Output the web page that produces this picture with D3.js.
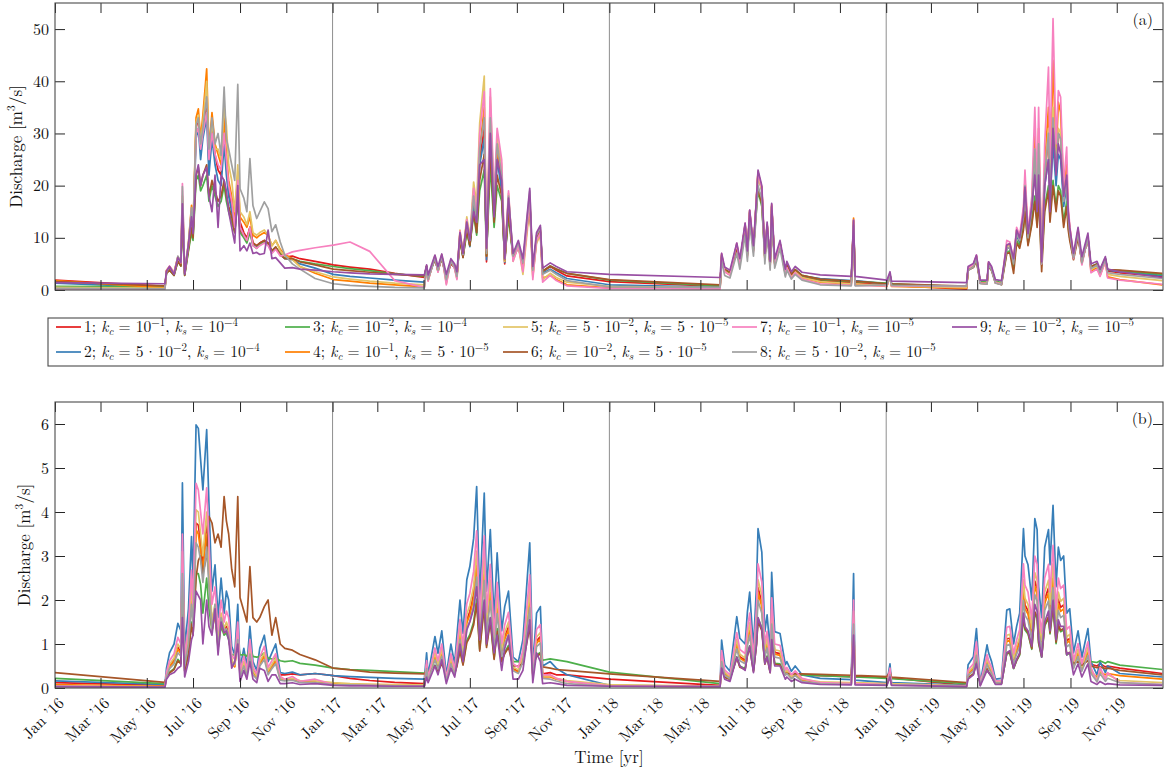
<!DOCTYPE html>
<html>
<head>
<meta charset="utf-8">
<script src="https://cdn.jsdelivr.net/npm/d3@7/dist/d3.min.js"></script>
<style>
  body { margin: 0; background: #fff; }
  svg { display: block; font-family: "Latin Modern Roman", "CMU Serif", "Liberation Serif", "Times New Roman", serif; }
  text { white-space: pre; }
</style>
</head>
<body>
<svg id="chart" width="1168" height="774"></svg>
<script>
// Simulated discharge for nine (k_c, k_s) parameter runs, 2016-2019.
// Sample days are counted from 1 Jan 2016.
const startDay = Date.UTC(2016, 0, 1);
const dayIndex = [
  0,145,147,151,157,162,166,168,171,176,
  180,182,186,189,192,195,200,203,207,211,
  215,219,223,226,229,233,237,241,244,249,
  253,257,261,266,270,276,281,286,291,297,
  303,313,323,343,367,389,415,448,487,
  490,492,501,505,510,516,522,527,530,534,
  538,543,547,552,556,560,566,569,574,579,
  583,589,593,598,604,611,617,626,630,635,
  640,643,653,661,675,731,877,
  879,883,890,899,903,910,913,916,921,925,
  927,932,936,939,943,945,949,956,963,965,
  971,976,985,1009,1050,1053,1055,1097,1101,1103,1202,
  1204,1211,1215,1220,1229,1231,1235,1240,1248,1255,
  1259,1264,1268,1272,1277,1279,1283,1288,1292,1295,
  1297,1301,1305,1310,1312,1316,1320,1323,1326,1330,
  1334,1336,1338,1343,1349,1354,1362,1366,1374,1378,
  1385,1388,1404,1460
];

const runLabels = [
  "1; k_c = 10^{-1}, k_s = 10^{-4}",
  "2; k_c = 5\u200a·\u200a10^{-2}, k_s = 10^{-4}",
  "3; k_c = 10^{-2}, k_s = 10^{-4}",
  "4; k_c = 10^{-1}, k_s = 5\u200a·\u200a10^{-5}",
  "5; k_c = 5\u200a·\u200a10^{-2}, k_s = 5\u200a·\u200a10^{-5}",
  "6; k_c = 10^{-2}, k_s = 5\u200a·\u200a10^{-5}",
  "7; k_c = 10^{-1}, k_s = 10^{-5}",
  "8; k_c = 5\u200a·\u200a10^{-2}, k_s = 10^{-5}",
  "9; k_c = 10^{-2}, k_s = 10^{-5}"
];
const runColors = ["#e41a1c","#377eb8","#4daf4a","#ff7f00","#e3c466","#a65628","#f781bf","#a0a0a0","#984ea3"];

const ticksA = [0, 10, 20, 30, 40, 50];
const ticksB = [0, 1, 2, 3, 4, 5, 6];

// ---- panel (a) ----
const panelA_run1 = [
  1.9,0.7,3.6,4.2,3.2,6.0,5.0,17,3.2,8.5,
  15,11,31,33,27,31,36,24,31,26,
  23,22,30,24,19,16,12,20,13,11,
  10,12,9,8.5,9,9.5,9,7.5,8.2,7,
  6.3,6.5,6.0,5.5,4.8,4.4,4.0,3.2,2.4,
  4.6,2.3,6.2,3.8,6.5,2.2,5.5,4.4,2.8,10.5,
  6.5,12.5,8.5,17,11.5,25,31,5.4,32,14,
  26,20,5.0,16,6.2,8.5,5.0,17.5,3.8,10,
  11.5,3.5,4.5,3.8,2.7,1.6,0.7,
  6.5,3.8,3.1,8.5,5.2,12.3,6.8,14.8,7.8,17.5,
  22.5,19.5,6.3,12.5,4.8,16,5.2,9.0,3.3,4.8,
  2.8,3.8,2.6,1.8,1.4,13,1.4,0.9,2.8,0.9,0.15,
  4.0,4.6,6.3,1.4,1.3,5.0,4.0,1.5,1.2,8.0,
  8.2,5.0,10.5,9.2,13.5,19,9.5,15,26,15,
  27,5.0,21,30,18,33,22,30,29,17,
  21,14,11,6.2,11,5.4,10,4.2,4.8,3.5,
  5.8,3.6,3.3,2.6
];
const panelA_run2 = [
  1.3,0.5,3.5,4.0,3.0,5.8,4.8,16.5,3.0,8.2,
  14.5,10.5,29,31,25,29,33,22,29,24,
  21,20,28,22,18,15,11.5,19,12,10.5,
  9.5,11.5,8.6,8.2,8.8,9.2,8.6,7.2,8,6.8,
  6,5.8,5.0,4.2,3.0,2.6,2.3,1.9,1.5,
  4.4,2.1,6.0,3.6,6.3,2.0,5.3,4.2,2.6,10,
  6.3,12,8.3,16.5,11,24,29,5.8,30,13.5,
  25,19,5.3,15.5,6.0,8.2,4.8,17,3.5,9.5,
  11,3.2,4.0,3.3,2.2,1.0,0.5,
  6.6,3.9,3.2,8.6,5.3,12.4,6.9,15,7.9,17.5,
  22,19,6.4,12.5,4.9,16,5.3,9.0,3.4,4.9,
  2.9,3.9,2.7,2.2,1.8,13.2,1.8,1.2,3.0,1.1,0.5,
  4.1,4.7,6.4,1.5,1.4,5.1,4.1,1.6,1.3,8.0,
  8.2,5.2,10.5,9.2,13.5,19.5,9.8,15.5,24,15,
  25,5.2,20,25,17,28,20,26,25,16,
  20,14,11,6.4,11,5.6,10,4.4,5.0,3.7,
  6.0,3.8,3.5,2.8
];
const panelA_run3 = [
  0.7,0.6,3.2,3.8,2.8,5.5,4.6,14,2.8,7.5,
  11,9.5,21,22,19,20,22,17,20,18,
  16,17,20,17,15,13,11,17,11,10,
  9,11,8.5,8,8.8,9.2,8.8,7.5,8.2,7,
  6.2,6,5.5,5.0,4.5,4.1,3.7,3.1,2.6,
  4.5,2.6,6.0,3.8,6.2,2.4,5.2,4.3,2.9,9.5,
  6.3,11,8.5,14.5,10.5,19,23,6.5,24,12,
  20,17,5.8,14,6.3,8.5,5.2,16.5,4.0,9.8,
  11,3.6,4.6,4.0,3.2,1.9,0.8,
  6.3,3.9,3.3,8.0,5.3,11.5,6.9,13.5,7.9,15.5,
  19,16,6.5,11.5,5.0,14,5.4,8.8,3.6,5.0,
  3.0,3.9,2.8,2.0,1.6,12.5,1.6,1.3,3.0,1.2,0.6,
  3.9,4.4,5.8,1.6,1.5,4.8,3.9,1.7,1.4,7.2,
  7.5,4.5,9.5,8.5,12,15.5,8.8,13,18,12.5,
  19,4.8,16,20,14,21,16,20,19,13,
  17,12.5,10,6.2,10.5,5.6,9.8,4.5,5.0,3.8,
  6.0,3.9,3.7,3.0
];
const panelA_run4 = [
  1.8,0.4,3.8,4.5,3.4,6.4,5.3,18,3.4,9.0,
  16.2,11.5,33,34.7,29,33.5,42.4,27,34,28,
  26,24,33,26,21,18,13.5,22,14,13,
  12,14,10.5,10,10.5,11,10.5,8.5,9.5,7.8,
  6.8,6,4.5,3.2,2.0,1.7,1.3,1.0,0.6,
  4.2,1.8,6.4,3.6,6.6,1.5,5.6,4.2,2.3,11,
  6.8,13.5,9.3,19,13,27,35,6.5,34,15.5,
  27,22,5.5,17,6.0,8.5,4.0,17,2.8,9.5,
  11,2.3,2.8,2.0,1.0,0.4,0.3,
  6.8,3.6,2.9,8.8,5.0,12.6,6.6,15.2,7.6,17.8,
  22.6,19.5,6.0,12.5,4.5,16.3,5.0,9.0,3.0,4.5,
  2.5,3.5,2.3,1.5,1.1,13.8,1.1,0.7,2.6,0.7,0.35,
  4.1,4.8,6.5,1.3,1.2,5.2,4.1,1.4,1.1,8.6,
  8.8,5.5,11.5,10,15,21,10.5,17,30,17,
  31,5.2,24,35,20,44,25,36,34,19,
  24,15,12,6.0,11.5,5.0,10.2,3.6,4.3,2.8,
  5.5,2.5,2.0,1.0
];
const panelA_run5 = [
  0.5,0.3,3.6,4.3,3.2,6.2,5.1,17.5,3.2,8.8,
  15.5,11.2,32,33.5,28,32,40,26,32,27,
  27,25,35,31.5,24,21,15,24,15,14,
  12.5,15,11,10.5,11,11.5,10.5,8.5,9.5,7.5,
  6.5,5.8,4.5,3.5,2.5,2.1,1.7,1.3,1.0,
  4.3,1.9,6.6,3.5,6.8,1.2,5.8,4.3,2.2,11.5,
  7.0,14,10,20.7,16.5,32,41,7,37,17,
  29,24,5.5,18.5,5.5,8.5,3.0,16,2.5,9.0,
  10.5,2.0,3.2,2.4,1.5,0.7,0.4,
  6.7,3.6,2.9,8.7,5.0,12.5,6.6,15,7.6,17.5,
  22,19,6.0,12.3,4.5,16,5.0,9.0,3.0,4.5,
  2.6,3.6,2.4,1.6,1.2,13.4,1.2,0.8,2.7,0.8,0.45,
  4.1,4.8,6.4,1.4,1.3,5.1,4.1,1.5,1.2,8.4,
  8.6,5.3,11,9.6,14.5,20,10,16,27,16,
  28,5.0,22,31,19,35,23,31,30,18,
  22,14.5,11.5,6.0,11,5.2,10,3.9,4.6,3.1,
  5.6,3.0,2.6,1.8
];
const panelA_run6 = [
  1.6,0.8,3.2,3.8,2.8,5.5,4.6,15,2.8,7.8,
  12,10,22,23.5,20,22,24,18,21,19,
  17,18,21,18,16,14,11,18,11.5,10.5,
  9.5,12,9,8.5,9,9.5,9,7.5,8.2,6.8,
  6,6,5.4,4.8,4.0,3.7,3.4,3.0,2.7,
  4.6,2.6,5.8,3.8,6.0,2.5,5.0,4.3,2.9,9.5,
  6.2,11.5,8.5,15,11,21,26,6.5,27,13,
  22,18,5.8,15,6.4,8.5,5.2,17,4.0,9.8,
  11.2,3.6,4.6,4.0,3.2,2.0,1.0,
  6.2,4.0,3.4,8.0,5.4,11.5,7.0,13.8,8.0,16,
  19.5,16.5,6.5,11.5,5.0,14.5,5.4,8.8,3.6,5.0,
  3.0,3.9,2.8,2.1,1.7,12.3,1.7,1.2,3.0,1.2,0.75,
  3.8,4.3,5.6,1.3,1.2,4.6,3.7,1.4,1.0,7.0,
  7.2,3.2,9.0,8.0,11.5,15,8.5,12.5,17,12,
  18,3.5,15,19,13,20,15,19,18,12,
  16,11.5,9.5,5.8,10,5.4,9.8,4.5,5.0,3.8,
  6.0,3.9,3.8,3.2
];
const panelA_run7 = [
  0.2,0.2,3.7,4.6,3.3,6.3,5.2,20.4,3.3,8.6,
  15.5,11.2,30,31,27,30,34,25,30,26,
  24,23,30,25,20,17,12,21,12,10.5,
  9.5,12,8.5,8,8.5,9,8.5,7,7.8,6.5,
  6.7,7.3,7.6,8.1,8.6,9.2,7.4,1.8,0.5,
  4.3,1.7,6.5,3.4,6.7,1.0,5.7,4.0,2.0,11.3,
  6.8,13.5,9.5,19.5,14,30,38,7.5,38.6,18,
  31,25,6.0,19,5.5,8.5,3.5,17.5,2.0,9.5,
  11,1.5,2.8,1.8,0.8,0.3,0.2,
  7.0,3.5,2.8,9.0,4.8,12.8,6.3,15.3,7.3,17.8,
  22.5,19.5,5.8,12.6,4.2,16.4,4.8,9.0,2.8,4.3,
  2.3,3.3,2.1,1.2,0.9,13.4,0.9,0.8,2.8,0.8,0.7,
  4.2,4.9,6.7,1.3,1.2,5.4,4.3,1.4,1.1,9.5,
  9.2,5.8,12,10.5,16,23,11,18,35,19,
  35,5.0,28,42.7,25,52,28,38.2,37,20,
  27.4,16,12.5,6.0,11.5,4.8,10.2,3.3,4.0,2.6,
  5.5,2.3,1.9,1.1
];
const panelA_run8 = [
  0.3,0.2,3.5,4.4,3.1,6.5,5.4,19.8,3.5,9.0,
  15.8,11.5,31.5,33,28,31,37,27,33,28,
  30,25.8,38.9,29,27,24,21,39.4,19.4,17.6,
  15,25.2,16.2,13.7,15,16.9,15.6,11.2,12.5,9.2,
  6.7,5.0,4.0,2.2,1.2,0.9,0.7,0.5,0.4,
  4.5,2.0,6.2,3.8,6.4,2.0,5.5,4.4,2.6,10.8,
  6.8,13,9.5,18,13,27,33,7,33,16,
  28,22,6.0,18,6.5,9.0,5.2,19,3.8,10.5,
  12,3.0,3.8,3.0,1.8,0.6,0.5,
  5.5,2.8,2.3,7.0,4.0,10.5,5.5,13,6.5,15.5,
  20,17.5,5.0,11,3.8,14.5,4.2,8.0,2.5,3.8,
  2.1,3.0,1.9,1.0,0.8,12.5,0.8,1.0,2.6,0.9,0.75,
  3.8,4.4,6.0,1.2,1.1,4.8,3.8,1.3,1.0,8.0,
  8.2,5.0,10.8,9.5,14,20,10,16,27,16,
  28,5.0,22,30,18,33,23,30,29,17,
  21,14,11,6.2,11,5.2,10,4.1,4.8,3.3,
  5.8,3.3,3.0,2.2
];
const panelA_run9 = [
  1.4,1.2,3.6,4.5,3.0,6.2,5.3,16.5,3.0,8.8,
  14,10.8,22,24,20,22,23.5,18,15,22,
  12,22,21,19,15,12,9,20,7.5,8.5,
  7.5,9,7,7.2,6.8,7,11.5,6,6.2,5.2,
  4.2,4.3,4.0,3.8,3.5,3.3,3.1,3.0,2.9,
  4.8,2.9,6.7,4.5,6.9,3.0,6.0,5.0,3.5,11,
  7.0,13,9.5,15,13,24,25,8,30,14,
  25,21,6.0,17.6,7.0,9.5,6.0,19.5,4.5,11,
  12.4,4.2,5.2,4.5,3.5,3.0,2.4,
  7.0,4.4,3.8,9.0,6.0,12.8,7.5,15.3,8.5,17.8,
  23,20,7.0,13,5.5,16.6,6.0,9.5,4.0,5.5,
  3.5,4.5,3.4,2.9,2.6,13.4,2.6,1.9,3.5,1.7,1.4,
  4.5,5.1,6.7,1.9,1.9,5.4,4.5,2.0,1.8,8.6,
  8.9,6.0,11.5,10,14.7,19.7,10.8,16,22,15,
  22,5.4,20,25,15,31,22,28,26,18,
  22,15,12,7,12,6.4,10.9,5.0,5.5,4.0,
  6.4,4.0,3.5,2.4
];

// ---- panel (b) ----
const panelB_run1 = [
  0.12,0.06,0.3,0.5,0.63,0.93,0.82,2.9,0.57,1.13,
  2.17,1.5,3.75,3.7,3.3,2.8,3.7,2.6,1.4,1.8,
  1.0,1.6,1.3,1.4,1.25,0.6,0.5,1.2,0.35,0.55,
  0.35,0.88,0.4,0.3,0.57,0.75,0.38,0.5,0.63,0.3,
  0.3,0.32,0.3,0.33,0.28,0.22,0.17,0.13,0.1,
  0.5,0.22,0.74,0.5,0.82,0.22,0.63,0.35,0.76,1.26,
  0.78,1.55,1.74,2.14,2.89,1.26,2.79,1.39,2.27,0.98,
  1.93,0.82,1.17,1.39,0.44,0.38,0.69,2.08,0.32,1.07,
  1.17,0.32,0.35,0.3,0.3,0.2,0.06,
  0.69,0.33,0.24,1.02,0.71,0.63,1.09,1.37,0.57,1.47,
  2.28,1.95,0.81,1.05,0.52,1.66,0.81,0.78,0.34,0.38,
  0.28,0.32,0.3,0.28,0.26,1.6,0.26,0.24,0.4,0.23,0.06,
  0.33,0.45,0.85,0.08,0.62,0.5,0.38,0.13,0.14,1.12,
  1.13,0.63,0.88,1.07,2.28,1.89,1.76,1.26,2.43,2.27,
  1.45,1.01,2.02,2.27,1.76,2.61,1.45,2.02,1.83,1.89,
  1.07,1.1,1.13,0.6,0.82,0.56,0.85,0.54,0.5,0.55,
  0.48,0.5,0.45,0.33
];
const panelB_run2 = [
  0.16,0.08,0.45,0.8,1.0,1.47,1.3,4.66,0.9,1.8,
  3.44,2.4,5.98,5.9,5.19,4.5,5.87,4.2,2.2,2.8,
  1.6,2.5,1.7,2.2,2.0,0.95,0.75,1.9,0.45,0.9,
  0.5,1.4,0.6,0.4,0.9,1.2,0.6,0.8,1.0,0.35,
  0.33,0.36,0.3,0.33,0.28,0.26,0.24,0.22,0.2,
  0.8,0.3,1.17,0.79,1.3,0.3,1.0,0.55,1.2,2.0,
  1.24,2.46,2.76,3.4,4.58,2.0,4.43,2.2,3.6,1.55,
  3.07,1.3,1.85,2.2,0.7,0.6,1.1,3.3,0.5,1.7,
  1.85,0.5,0.6,0.45,0.3,0.06,0.04,
  1.09,0.53,0.38,1.62,1.13,1.0,1.73,2.18,0.9,2.33,
  3.62,3.09,1.28,1.66,0.83,2.63,1.28,1.24,0.53,0.6,
  0.38,0.5,0.3,0.22,0.19,2.6,0.18,0.12,0.55,0.12,0.06,
  0.53,0.71,1.35,0.11,0.98,0.8,0.6,0.2,0.22,1.77,
  1.8,1.0,1.4,1.7,3.62,3.0,2.8,2.0,3.85,3.6,
  2.3,1.6,3.2,3.6,2.8,4.15,2.3,3.2,2.9,3.0,
  1.7,1.75,1.8,0.8,1.3,0.7,1.35,0.6,0.3,0.6,
  0.35,0.5,0.33,0.25
];
const panelB_run3 = [
  0.22,0.10,0.28,0.36,0.44,0.65,0.57,2.0,0.4,0.8,
  1.5,1.3,2.6,2.6,2.35,1.7,2.5,1.8,1.3,1.7,
  0.9,1.4,1.2,1.25,1.1,0.75,0.75,1.1,0.75,0.76,
  0.72,0.9,0.72,0.7,0.72,0.8,0.68,0.66,0.68,0.62,
  0.6,0.62,0.56,0.52,0.45,0.42,0.4,0.37,0.34,
  0.4,0.36,0.52,0.4,0.57,0.34,0.45,0.34,0.53,0.88,
  0.55,1.08,1.21,1.5,2.02,0.88,1.95,0.97,1.58,0.68,
  1.35,0.6,0.81,0.97,0.6,0.6,0.62,1.45,0.62,0.75,
  0.81,0.63,0.66,0.64,0.6,0.36,0.1,
  0.48,0.25,0.2,0.71,0.5,0.44,0.76,0.96,0.4,1.03,
  1.59,1.36,0.56,0.73,0.37,1.16,0.56,0.55,0.3,0.32,
  0.3,0.31,0.3,0.28,0.25,1.15,0.25,0.22,0.35,0.21,0.1,
  0.24,0.31,0.59,0.1,0.43,0.35,0.26,0.1,0.1,0.78,
  0.79,0.44,0.62,0.75,1.59,1.32,1.23,0.88,1.69,1.58,
  1.01,0.7,1.41,1.58,1.23,1.83,1.01,1.41,1.28,1.32,
  0.75,0.77,0.79,0.62,0.65,0.62,0.68,0.6,0.58,0.62,
  0.56,0.6,0.52,0.42
];
const panelB_run4 = [
  0.08,0.04,0.28,0.48,0.6,0.88,0.78,2.8,0.54,1.08,
  2.06,1.45,3.6,3.5,3.1,2.7,3.5,2.5,1.3,1.7,
  0.96,1.5,1.25,1.3,1.2,0.57,0.48,1.15,0.3,0.55,
  0.32,0.84,0.36,0.24,0.54,0.72,0.36,0.48,0.6,0.2,
  0.18,0.2,0.15,0.14,0.1,0.08,0.07,0.06,0.05,
  0.48,0.18,0.7,0.47,0.78,0.18,0.6,0.33,0.72,1.2,
  0.74,1.48,1.66,2.04,2.75,1.2,2.66,1.32,2.16,0.93,
  1.84,0.78,1.11,1.32,0.42,0.36,0.66,1.98,0.3,1.02,
  1.11,0.25,0.25,0.2,0.15,0.05,0.03,
  0.65,0.32,0.23,0.97,0.68,0.6,1.04,1.31,0.54,1.4,
  2.17,1.85,0.77,1.0,0.5,1.58,0.77,0.74,0.32,0.36,
  0.23,0.3,0.18,0.12,0.1,1.55,0.1,0.08,0.35,0.08,0.04,
  0.32,0.43,0.81,0.07,0.59,0.48,0.36,0.12,0.13,1.06,
  1.08,0.6,0.84,1.02,2.17,1.8,1.68,1.2,2.31,2.16,
  1.38,0.96,1.92,2.16,1.68,2.49,1.38,1.92,1.74,1.8,
  1.02,1.05,1.08,0.48,0.78,0.42,0.81,0.36,0.25,0.36,
  0.3,0.33,0.28,0.2
];
const panelB_run5 = [
  0.05,0.03,0.3,0.54,0.68,1.0,0.88,3.1,0.6,1.22,
  2.34,1.63,4.05,4.0,3.5,3.0,4.0,2.85,1.5,1.9,
  1.1,1.7,1.35,1.5,1.35,0.65,0.52,1.3,0.3,0.6,
  0.34,0.95,0.4,0.27,0.6,0.8,0.4,0.54,0.68,0.22,
  0.2,0.22,0.17,0.16,0.12,0.1,0.09,0.08,0.07,
  0.54,0.2,0.8,0.54,0.88,0.2,0.68,0.37,0.82,1.36,
  0.84,1.67,1.88,2.31,3.11,1.36,3.01,1.5,2.45,1.05,
  2.09,0.88,1.26,1.5,0.48,0.41,0.75,2.24,0.34,1.16,
  1.26,0.28,0.28,0.22,0.17,0.08,0.04,
  0.74,0.36,0.26,1.1,0.77,0.68,1.18,1.48,0.61,1.58,
  2.46,2.1,0.87,1.13,0.56,1.79,0.87,0.84,0.36,0.41,
  0.26,0.34,0.2,0.14,0.12,1.75,0.12,0.1,0.4,0.1,0.05,
  0.36,0.48,0.92,0.07,0.67,0.54,0.41,0.14,0.15,1.2,
  1.22,0.68,0.95,1.16,2.46,2.04,1.9,1.36,2.62,2.45,
  1.56,1.09,2.18,2.45,1.9,2.82,1.56,2.18,1.97,2.04,
  1.16,1.19,1.22,0.54,0.88,0.48,0.92,0.41,0.2,0.41,
  0.22,0.3,0.17,0.12
];
const panelB_run6 = [
  0.35,0.13,0.26,0.34,0.42,0.62,0.55,1.9,0.38,0.76,
  1.45,1.2,2.5,2.9,3.0,2.6,3.0,3.9,3.75,3.3,
  3.5,3.2,4.35,3.8,3.5,2.7,2.3,4.35,2.05,1.75,
  1.5,2.76,1.6,1.5,1.6,1.85,2.0,1.2,1.6,1.0,
  0.9,0.86,0.76,0.64,0.45,0.41,0.36,0.34,0.32,
  0.4,0.34,0.5,0.38,0.55,0.32,0.42,0.32,0.5,0.84,
  0.52,1.03,1.16,1.43,1.92,0.84,1.86,0.92,1.51,0.65,
  1.29,0.6,0.78,0.92,0.5,0.5,0.55,1.39,0.5,0.71,
  0.78,0.48,0.45,0.42,0.4,0.32,0.15,
  0.46,0.24,0.2,0.68,0.47,0.42,0.73,0.92,0.38,0.98,
  1.52,1.3,0.54,0.7,0.35,1.1,0.54,0.52,0.32,0.33,
  0.32,0.32,0.32,0.31,0.29,1.1,0.29,0.26,0.35,0.25,0.12,
  0.24,0.32,0.61,0.1,0.44,0.36,0.27,0.1,0.1,0.8,
  0.81,0.45,0.63,0.77,1.63,1.35,1.26,0.9,1.73,1.62,
  1.04,0.72,1.44,1.62,1.26,1.87,1.04,1.44,1.31,1.35,
  0.77,0.79,0.81,0.55,0.6,0.52,0.62,0.5,0.46,0.48,
  0.44,0.45,0.4,0.3
];
const panelB_run7 = [
  0.04,0.02,0.36,0.62,0.78,1.15,1.0,3.5,0.7,1.4,
  2.68,1.9,4.65,4.5,4.0,3.5,4.55,3.3,1.9,2.3,
  1.3,2.0,1.5,1.75,1.6,0.75,0.65,1.5,0.38,0.72,
  0.42,1.1,0.48,0.32,0.7,0.95,0.47,0.62,0.78,0.26,
  0.2,0.26,0.15,0.2,0.08,0.07,0.06,0.05,0.04,
  0.62,0.23,0.91,0.62,1.0,0.23,0.78,0.43,0.94,1.56,
  0.97,1.92,2.15,2.65,3.57,1.56,3.46,1.72,2.81,1.21,
  2.4,1.01,1.44,1.72,0.55,0.47,0.86,2.57,0.39,1.33,
  1.44,0.3,0.3,0.22,0.15,0.05,0.03,
  0.85,0.41,0.3,1.26,0.88,0.78,1.35,1.7,0.7,1.82,
  2.82,2.41,1.0,1.29,0.65,2.05,1.0,0.97,0.41,0.47,
  0.3,0.39,0.22,0.12,0.1,2.0,0.1,0.08,0.45,0.08,0.04,
  0.41,0.55,1.05,0.08,0.76,0.62,0.47,0.16,0.17,1.38,
  1.4,0.78,1.09,1.33,2.82,2.34,2.18,1.56,3.0,2.81,
  1.79,1.25,2.5,2.81,2.18,3.24,1.79,2.5,2.26,2.34,
  1.33,1.37,1.4,0.62,1.01,0.55,1.05,0.47,0.14,0.47,
  0.2,0.35,0.12,0.08
];
const panelB_run8 = [
  0.03,0.02,0.25,0.44,0.55,0.8,0.72,2.6,0.5,1.0,
  1.9,1.4,3.3,3.2,2.9,2.4,3.2,2.3,1.3,1.9,
  0.9,1.6,1.3,1.35,1.2,0.55,0.55,1.1,0.25,0.5,
  0.28,0.77,0.3,0.2,0.5,0.65,0.3,0.44,0.55,0.18,
  0.16,0.18,0.12,0.12,0.08,0.07,0.06,0.05,0.04,
  0.44,0.16,0.64,0.43,0.72,0.16,0.55,0.3,0.66,1.1,
  0.68,1.35,1.52,1.87,2.52,1.1,2.44,1.21,1.98,0.85,
  1.69,0.72,1.02,1.21,0.39,0.33,0.6,1.82,0.28,0.94,
  1.02,0.22,0.2,0.16,0.1,0.04,0.03,
  0.6,0.29,0.21,0.89,0.62,0.55,0.95,1.2,0.5,1.28,
  1.99,1.7,0.7,0.91,0.46,1.45,0.7,0.68,0.29,0.33,
  0.21,0.28,0.15,0.1,0.08,1.45,0.08,0.07,0.3,0.07,0.03,
  0.29,0.39,0.74,0.06,0.54,0.44,0.33,0.11,0.12,0.97,
  0.99,0.55,0.77,0.94,1.99,1.65,1.54,1.1,2.12,1.98,
  1.27,0.88,1.76,1.98,1.54,2.28,1.27,1.76,1.6,1.65,
  0.94,0.96,0.99,0.44,0.72,0.38,0.74,0.33,0.14,0.33,
  0.15,0.22,0.12,0.08
];
const panelB_run9 = [
  0.03,0.02,0.2,0.3,0.35,0.45,0.5,1.6,0.25,0.6,
  1.1,1.2,2.2,2.1,2.0,1.0,2.0,1.4,1.2,1.8,
  0.75,1.5,1.25,1.3,1.1,0.45,0.6,1.0,0.15,0.4,
  0.2,0.6,0.2,0.12,0.45,0.4,0.15,0.3,0.3,0.1,
  0.1,0.12,0.08,0.1,0.06,0.05,0.05,0.04,0.04,
  0.25,0.12,0.5,0.3,0.64,0.1,0.45,0.25,0.55,1.0,
  0.6,1.32,1.5,1.8,2.3,1.1,2.0,1.0,1.6,0.8,
  1.2,0.4,0.9,1.2,0.2,0.2,0.4,1.55,0.12,0.8,
  0.6,0.1,0.12,0.1,0.06,0.04,0.03,
  0.45,0.2,0.15,0.7,0.5,0.4,0.75,0.95,0.35,1.0,
  1.6,1.35,0.55,0.7,0.35,1.1,0.5,0.5,0.2,0.25,
  0.15,0.2,0.12,0.08,0.07,1.2,0.07,0.06,0.25,0.06,0.03,
  0.2,0.3,0.55,0.05,0.4,0.35,0.25,0.08,0.08,0.8,
  0.85,0.45,0.65,0.8,1.7,1.4,1.3,0.95,1.9,1.75,
  1.1,0.7,1.5,1.75,1.3,2.0,1.1,1.55,1.4,1.4,
  0.75,0.8,0.8,0.3,0.55,0.25,0.55,0.15,0.08,0.15,
  0.08,0.1,0.07,0.06
];

const runsA = [panelA_run1, panelA_run2, panelA_run3, panelA_run4, panelA_run5, panelA_run6, panelA_run7, panelA_run8, panelA_run9];
const runsB = [panelB_run1, panelB_run2, panelB_run3, panelB_run4, panelB_run5, panelB_run6, panelB_run7, panelB_run8, panelB_run9];

// ---------------------------------------------------------------
const svg = d3.select("#chart");
const dates = dayIndex.map(d => d3.utcDay.offset(new Date(startDay), d));
const X0 = 55, X1 = 1163;
const x = d3.scaleUtc()
  .domain([new Date(startDay), new Date(Date.UTC(2020, 0, 1))])
  .range([X0, X1]);
const monthTicks = d3.utcMonth.every(2).range(new Date(startDay), new Date(Date.UTC(2020, 0, 1)));
const yearLines = d3.utcYear.range(new Date(Date.UTC(2017, 0, 1)), new Date(Date.UTC(2020, 0, 1)));
const fmtTick = d3.utcFormat("%b \u2019%y");

// Small TeX-like renderer: k_c -> italic k with italic subscript, ^{..} -> superscript
function mathTokens(s) {
  const out = [];
  const re = /k_([a-z])|\^\{([^}]*)\}|([^k^]+)/g;
  let m;
  while ((m = re.exec(s))) {
    if (m[1]) { out.push({ t: "k", kind: "it" }); out.push({ t: m[1], kind: "sub" }); }
    else if (m[2] !== undefined) out.push({ t: m[2].replace("-", "\u2212"), kind: "sup" });
    else out.push({ t: m[3], kind: "rm" });
  }
  return out;
}
function renderMath(textSel, tokens, size) {
  let shift = 0;
  tokens.forEach(tok => {
    const target = tok.kind === "sub" ? 0.22 * size : tok.kind === "sup" ? -0.38 * size : 0;
    const ts = textSel.append("tspan").attr("dy", target - shift).text(tok.t);
    shift = target;
    if (tok.kind === "sub" || tok.kind === "sup") ts.attr("font-size", size * 0.7);
    if (tok.kind === "it" || tok.kind === "sub") ts.attr("font-style", "italic");
  });
}

function drawPanel(cfg) {
  const g = svg.append("g");
  const y = d3.scaleLinear().domain([0, cfg.yMax]).range([cfg.bottom, cfg.top]);

  g.selectAll("line.year").data(yearLines).join("line")
    .attr("class", "year")
    .attr("x1", d => x(d)).attr("x2", d => x(d))
    .attr("y1", cfg.top).attr("y2", cfg.bottom)
    .attr("stroke", "#8e8e8e").attr("stroke-width", 1);

  const clipId = "clip-" + cfg.key;
  svg.append("clipPath").attr("id", clipId).append("rect")
    .attr("x", X0).attr("y", cfg.top).attr("width", X1 - X0).attr("height", cfg.bottom - cfg.top);

  const line = d3.line()
    .defined(d => d != null)
    .x((d, i) => x(dates[i]))
    .y(d => y(d));

  g.append("g").attr("clip-path", `url(#${clipId})`)
    .selectAll("path").data(cfg.runs).join("path")
    .attr("d", d => line(d))
    .attr("fill", "none")
    .attr("stroke", (d, i) => runColors[i])
    .attr("stroke-width", 1.7)
    .attr("stroke-linejoin", "round");

  // inward ticks on all four sides
  const tickStyle = s => {
    s.select(".domain").remove();
    s.selectAll(".tick line").attr("stroke", "#262626");
  };
  g.append("g").attr("transform", `translate(${X0},0)`)
    .call(d3.axisLeft(y).tickValues(cfg.yTicks).tickSize(-10).tickPadding(6).tickFormat(d3.format("d")))
    .call(tickStyle)
    .call(s => s.selectAll(".tick text").attr("font-size", 16).attr("fill", "#111")
      .attr("font-family", "'Latin Modern Roman','CMU Serif','Liberation Serif',serif"));
  g.append("g").attr("transform", `translate(${X1},0)`)
    .call(d3.axisRight(y).tickValues(cfg.yTicks).tickSize(-10).tickFormat(""))
    .call(tickStyle);
  g.append("g").attr("transform", `translate(0,${cfg.bottom})`)
    .call(d3.axisBottom(x).tickValues(monthTicks).tickSize(-10).tickFormat(""))
    .call(tickStyle);
  g.append("g").attr("transform", `translate(0,${cfg.top})`)
    .call(d3.axisTop(x).tickValues(monthTicks).tickSize(-10).tickFormat(""))
    .call(tickStyle);

  g.append("rect")
    .attr("x", X0).attr("y", cfg.top)
    .attr("width", X1 - X0).attr("height", cfg.bottom - cfg.top)
    .attr("fill", "none").attr("stroke", "#4a4a4a").attr("stroke-width", 1.1);

  // y-axis title
  const yt = g.append("text")
    .attr("transform", `translate(${cfg.yLabelX},${(cfg.top + cfg.bottom) / 2}) rotate(-90)`)
    .attr("text-anchor", "middle").attr("font-size", 17).attr("fill", "#111");
  yt.append("tspan").text("Discharge [m");
  yt.append("tspan").attr("dy", -7).attr("font-size", 12).text("3");
  yt.append("tspan").attr("dy", 7).text("/s]");

  g.append("text")
    .attr("x", 1153).attr("y", cfg.top + cfg.tagDy)
    .attr("text-anchor", "end").attr("font-size", 16).attr("fill", "#111")
    .text(cfg.tag);

  return { g, y };
}

drawPanel({ key: "a", runs: runsA, yMax: 55, yTicks: ticksA, top: 3, bottom: 290, yLabelX: 22, tag: "(a)", tagDy: 22 });
const pb = drawPanel({ key: "b", runs: runsB, yMax: 6.5, yTicks: ticksB, top: 402, bottom: 688, yLabelX: 30, tag: "(b)", tagDy: 22 });

// rotated month labels under panel (b)
pb.g.append("g").selectAll("text").data(monthTicks).join("text")
  .attr("transform", d => `translate(${x(d) + 10},${704}) rotate(-45)`)
  .attr("text-anchor", "end")
  .attr("font-size", 16).attr("fill", "#111")
  .text(d => fmtTick(d));

svg.append("text")
  .attr("x", 609).attr("y", 763)
  .attr("text-anchor", "middle").attr("font-size", 17).attr("fill", "#111")
  .text("Time [yr]");

// legend
const legend = svg.append("g");
legend.append("rect")
  .attr("x", 48).attr("y", 318).attr("width", 1115).attr("height", 48)
  .attr("fill", "#fff").attr("stroke", "#4a4a4a").attr("stroke-width", 1.1);
const colX = [84, 313, 531, 760, 980];
const rowY = [332, 357];
runLabels.forEach((lab, i) => {
  const cx = colX[Math.floor(i / 2)], cy = rowY[i % 2];
  legend.append("line")
    .attr("x1", cx - 28).attr("x2", cx - 3)
    .attr("y1", cy - 5).attr("y2", cy - 5)
    .attr("stroke", runColors[i]).attr("stroke-width", 1.7);
  const t = legend.append("text").attr("x", cx).attr("y", cy)
    .attr("font-size", 15.5).attr("fill", "#111");
  renderMath(t, mathTokens(lab), 15.5);
});
</script>
</body>
</html>
